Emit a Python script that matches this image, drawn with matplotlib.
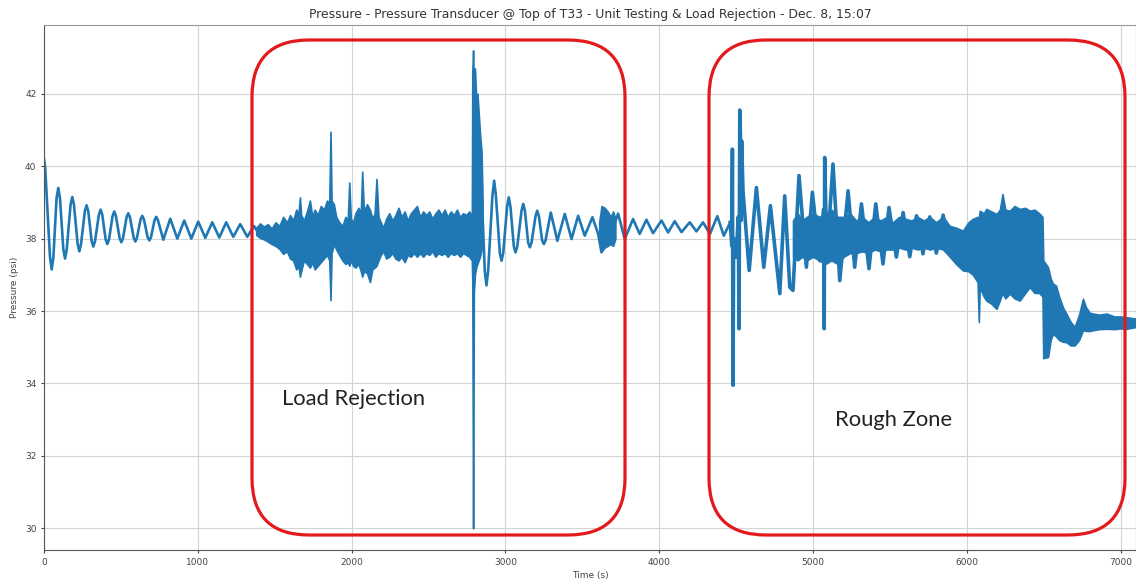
"""Pressure transducer trace at top of T33, with the two marked zones."""

import matplotlib
matplotlib.use("Agg")
import matplotlib.pyplot as plt
from matplotlib.patches import FancyBboxPatch

# ---------- data ----------
# ring-down traces: start-up, after the load rejection, and the quiet stretch
time_s = [
    0, 8, 39, 50, 61, 82, 93, 104, 126, 137, 148, 173, 184, 195, 219, 230, 241,
    266, 277, 288, 310, 321, 332, 357, 368, 379, 401, 412, 423, 446, 457, 468,
    492, 503, 514, 537, 548, 559, 583, 594, 605, 628, 639, 650, 674, 685, 696,
    719, 730, 741, 776, 821, 867, 912, 958, 1003, 1049, 1094, 1140, 1185,
    1231, 1276, 1322, 1365, 1410, 1450, 1490, 1600, 2000, 2852,
    2866, 2877, 2888, 2916, 2927, 2938, 2964, 2975, 2986, 3011, 3022, 3033,
    3055, 3066, 3077, 3105, 3116, 3127, 3148, 3159, 3170, 3196, 3207, 3218,
    3239, 3250, 3261, 3295, 3338, 3386, 3430, 3473, 3516, 3566, 3603, 3625,
    3660, 3700, 3733, 3776, 3830, 3873, 3917, 3960, 4015, 4058, 4101, 4145,
    4199, 4242, 4285, 4330, 4378, 4420, 4462,
]
pressure_psi = [
    40.2, 39.95, 37.5, 37.15, 37.47, 39.12, 39.4, 39.12, 37.7, 37.45, 37.7,
    38.94, 39.15, 38.94, 37.85, 37.65, 37.85, 38.76, 38.92, 38.76, 37.93,
    37.78, 37.93, 38.66, 38.8, 38.66, 37.98, 37.85, 37.98, 38.62, 38.75, 38.62,
    38.01, 37.9, 38.01, 38.59, 38.7, 38.59, 38.03, 37.92, 38.03, 38.53, 38.63,
    38.53, 38.04, 37.95, 38.04, 38.51, 38.6, 38.51, 37.97, 38.55, 38.0, 38.5,
    38.0, 38.47, 38.02, 38.45, 38.03, 38.45, 38.05, 38.4, 38.05, 38.35, 38.05,
    38.3, 37.95, 38.1, 38.0, 38.6,
    37.11, 36.71, 37.11, 39.2, 39.6, 39.2, 37.6, 37.39, 37.6, 38.88, 39.14,
    38.88, 37.78, 37.62, 37.78, 38.77, 38.96, 38.77, 37.89, 37.76, 37.89,
    38.62, 38.77, 38.62, 37.95, 37.85, 37.95, 38.72, 37.94, 38.68, 37.99,
    38.63, 38.08, 38.59, 38.13, 37.62, 38.3, 38.3, 38.69, 37.99, 38.54, 38.13,
    38.52, 38.15, 38.5, 38.17, 38.48, 38.18, 38.45, 38.2, 38.45, 38.13, 38.62,
    38.08, 38.45,
]

# rough-zone trace: spikes and noisy oscillation after unit restart
rough_osc_t = [
    4462, 4472, 4476, 4480, 4484, 4500, 4514, 4519, 4524, 4528, 4532, 4536,
    4545, 4585, 4632, 4680, 4723, 4784, 4816, 4849, 4870, 4909, 4957, 4996,
    5044, 5068, 5073, 5076, 5090, 5130, 5174, 5228, 5271, 5315, 5364, 5408,
    5455, 5494, 5542, 5586, 5629, 5673, 5715, 5759, 5802, 5846, 5889,
]
rough_osc_p = [
    38.45, 37.8, 40.47, 33.95, 38.0, 37.49, 38.6, 35.51, 41.55, 40.9, 38.5,
    40.7, 39.3, 37.12, 39.41, 37.21, 38.91, 36.48, 39.18, 36.66, 36.57, 39.74,
    37.21, 39.28, 37.39, 38.8, 35.51, 40.24, 37.5, 40.06, 36.84, 39.32, 37.21,
    38.96, 37.17, 38.96, 37.3, 38.86, 37.49, 38.72, 37.5, 38.63, 37.58, 38.6,
    37.6, 38.65, 37.76,
]

# dense noisy stretch inside "Load Rejection" (upper / lower envelope)
rej_t = [
    1380, 1405, 1430, 1455, 1480, 1505, 1530, 1555, 1580, 1600, 1620, 1640,
    1655, 1664, 1672, 1690, 1710, 1729, 1745, 1760, 1780, 1800, 1820, 1840,
    1855, 1863, 1870, 1885, 1900, 1920, 1940, 1960, 1975, 1985, 1995, 2010,
    2025, 2045, 2060, 2069, 2080, 2100, 2119, 2135, 2150, 2162, 2175, 2190,
    2206, 2225, 2245, 2265, 2285, 2305, 2325, 2345, 2365, 2385, 2405, 2425,
    2445, 2465, 2485, 2505, 2525, 2545, 2565, 2585, 2605, 2625, 2645, 2665,
    2685, 2705, 2725, 2745, 2765, 2782, 2785, 2790, 2795, 2802, 2810, 2818,
    2826, 2835, 2845, 2852,
]
rej_hi = [
    38.30, 38.42, 38.33, 38.40, 38.28, 38.45, 38.35, 38.60, 38.45, 38.65,
    38.50, 38.80, 38.70, 39.14, 38.65, 38.50, 38.75, 39.05, 38.60, 38.80,
    38.65, 38.90, 38.80, 39.05, 39.00, 40.95, 39.05, 38.95, 38.60, 38.45,
    38.35, 38.60, 38.50, 39.55, 38.55, 38.45, 38.70, 38.85, 38.70, 39.85,
    38.75, 38.95, 38.80, 38.55, 38.70, 39.65, 38.60, 38.45, 38.30, 38.55,
    38.70, 38.50, 38.65, 38.85, 38.60, 38.75, 38.50, 38.70, 38.80, 38.90,
    38.60, 38.75, 38.65, 38.75, 38.55, 38.70, 38.80, 38.65, 38.80, 38.60,
    38.75, 38.65, 38.80, 38.60, 38.70, 38.65, 38.75, 38.60, 42.60, 43.20,
    42.30, 42.70, 41.90, 42.00, 41.50, 40.90, 40.40, 39.00,
]
rej_lo = [
    38.10, 38.02, 37.98, 37.92, 37.85, 37.80, 37.72, 37.58, 37.65, 37.45,
    37.40, 37.15, 37.25, 36.95, 37.10, 37.40, 37.30, 37.20, 37.35, 37.15,
    37.25, 37.35, 37.45, 37.55, 37.40, 36.30, 37.60, 37.85, 37.70, 37.55,
    37.40, 37.30, 37.35, 37.25, 37.40, 37.25, 37.20, 37.30, 37.10, 36.95,
    37.10, 37.05, 36.80, 37.15, 37.20, 37.25, 37.40, 37.55, 37.65, 37.45,
    37.50, 37.60, 37.45, 37.40, 37.50, 37.35, 37.55, 37.50, 37.60, 37.50,
    37.60, 37.50, 37.60, 37.55, 37.65, 37.50, 37.60, 37.55, 37.60, 37.50,
    37.60, 37.55, 37.60, 37.50, 37.60, 37.55, 37.50, 37.40, 36.80, 30.00,
    36.50, 37.00, 37.20, 37.30, 37.40, 37.50, 37.70, 37.90,
]

# short burst just before the second ring-down ends
burst_t = [3610, 3625, 3645, 3665, 3685, 3700, 3715]
burst_hi = [38.45, 38.90, 38.85, 38.75, 38.60, 38.75, 38.55]
burst_lo = [38.05, 37.65, 37.75, 37.80, 37.85, 37.80, 38.00]

# noisy core through the rough zone and the final drop
rough_t = [
    4870, 4900, 4930, 4960, 5000, 5040, 5080, 5120, 5160, 5200, 5240, 5280,
    5320, 5360, 5400, 5440, 5480, 5520, 5560, 5600, 5640, 5680, 5720, 5760,
    5800, 5846, 5889, 5930, 5975, 6010, 6040, 6070, 6078, 6084, 6110, 6127,
    6160, 6193, 6215, 6232, 6250, 6279, 6310, 6344, 6380, 6409, 6440, 6470,
    6492, 6497, 6528, 6545, 6560, 6580, 6600, 6625, 6647, 6675, 6701, 6730,
    6755, 6775, 6800, 6820, 6860, 6908, 6960, 7000, 7038, 7100,
]
rough_hi = [
    38.50, 38.70, 38.50, 38.60, 38.70, 38.60, 38.70, 38.80, 38.60, 38.60,
    38.70, 38.50, 38.60, 38.45, 38.60, 38.50, 38.60, 38.45, 38.60, 38.55,
    38.50, 38.60, 38.50, 38.60, 38.45, 38.60, 38.35, 38.30, 38.22, 38.45,
    38.55, 38.60, 38.55, 38.77, 38.70, 38.82, 38.75, 38.68, 38.80, 39.23,
    38.80, 38.77, 38.90, 38.82, 38.85, 38.77, 38.80, 38.70, 38.60, 37.40,
    37.21, 36.90, 36.76, 36.70, 36.40, 36.10, 35.93, 35.70, 35.56, 35.90,
    36.34, 36.10, 35.95, 35.93, 35.90, 35.93, 35.85, 35.85, 35.83, 35.79,
]
rough_lo = [
    37.50, 37.40, 37.50, 37.40, 37.50, 37.40, 37.30, 37.40, 37.30, 37.50,
    37.60, 37.60, 37.65, 37.60, 37.70, 37.65, 37.70, 37.70, 37.75, 37.70,
    37.75, 37.70, 37.75, 37.70, 37.75, 37.70, 37.50, 37.30, 37.12, 37.10,
    37.00, 36.80, 35.70, 36.66, 36.40, 36.29, 36.20, 36.06, 36.30, 36.50,
    36.35, 36.48, 36.35, 36.29, 36.50, 36.66, 36.50, 36.50, 36.40, 34.70,
    34.73, 35.20, 35.37, 35.30, 35.20, 35.15, 35.14, 35.05, 35.05, 35.20,
    35.47, 35.45, 35.45, 35.47, 35.50, 35.51, 35.50, 35.52, 35.51, 35.56,
]

x_ticks = [0, 1000, 2000, 3000, 4000, 5000, 6000, 7000]
y_ticks = [30, 32, 34, 36, 38, 40, 42]

BLUE = "#1f77b4"
RED = "#e3191c"

# ---------- figure ----------
fig = plt.figure(figsize=(11.36, 5.85), dpi=100, facecolor="white")
ax = fig.add_axes([0.0387, 0.0598, 0.9613, 0.8975])

ax.plot(time_s, pressure_psi, color=BLUE, lw=1.9, solid_joinstyle="round")
ax.plot(rough_osc_t, rough_osc_p, color=BLUE, lw=2.6, solid_joinstyle="round")
for t, hi, lo in [(rej_t, rej_hi, rej_lo), (burst_t, burst_hi, burst_lo),
                  (rough_t, rough_hi, rough_lo)]:
    ax.fill_between(t, lo, hi, color=BLUE, lw=1.2, edgecolor=BLUE)

ax.set_xlim(0, 7100)
ax.set_ylim(29.4, 43.9)
ax.set_xticks(x_ticks)
ax.set_yticks(y_ticks)
ax.grid(True, color="#d4d4d4", lw=0.8)
ax.set_axisbelow(True)
ax.tick_params(labelsize=6.5, colors="#444444", length=2)
for s in ax.spines.values():
    s.set_color("#555555")
ax.spines["top"].set_color("#999999")

ax.set_title("Pressure - Pressure Transducer @ Top of T33 - Unit Testing & Load Rejection - Dec. 8, 15:07",
             fontsize=8.9, color="#333333", pad=5)
ax.set_xlabel("Time (s)", fontsize=6.5, color="#444444", labelpad=3)
ax.set_ylabel("Pressure (psi)", fontsize=6.5, color="#444444", labelpad=4)

# ---------- red callout boxes (pixel placement, in inches at 100 dpi) ----------
for x0, w in [(2.52, 3.73), (7.09, 4.16)]:
    box = FancyBboxPatch((x0, 0.50), w, 4.95,
                         boxstyle="round,pad=0,rounding_size=0.57",
                         transform=fig.dpi_scale_trans, fill=False,
                         edgecolor=RED, lw=2.3, zorder=10)
    fig.patches.append(box)

ax.text(2015, 33.56, "Load Rejection", fontsize=15.8, family=["Lato", "DejaVu Sans"],
        color="#222222", ha="center", va="center", zorder=11)
ax.text(5525, 32.99, "Rough Zone", fontsize=15.8, family=["Lato", "DejaVu Sans"],
        color="#222222", ha="center", va="center", zorder=11)

fig.savefig("out.png", dpi=100, facecolor="white")
